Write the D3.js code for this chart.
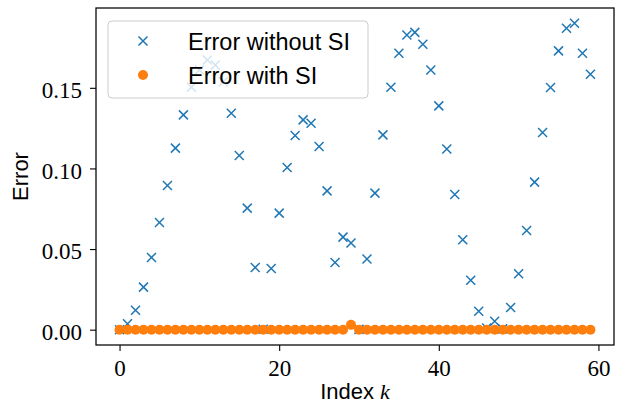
<!DOCTYPE html>
<html><head><meta charset="utf-8">
<script src="https://cdn.jsdelivr.net/npm/d3@7"></script>
<style>html,body{margin:0;padding:0;background:#fff;}svg{display:block;}</style>
</head><body>
<svg id="c" width="617" height="404"></svg>
<script>
const errWithout = [0.0, 0.0037, 0.012, 0.0264, 0.0448, 0.0665, 0.0894, 0.1126, 0.1332, 0.1504,
  0.161, 0.1673, 0.1642, 0.1538, 0.1342, 0.108, 0.0754, 0.0386, 0.0003, 0.038,
  0.0723, 0.1006, 0.1204, 0.1301, 0.128, 0.1136, 0.0861, 0.0417, 0.0574, 0.0537,
  0.0002, 0.0438, 0.0847, 0.1208, 0.1504, 0.1714, 0.1828, 0.1844, 0.177, 0.161,
  0.1388, 0.1121, 0.0838, 0.0558, 0.0306, 0.0114, 0.001, 0.0052, 0.0005, 0.0138,
  0.0347, 0.0615, 0.0915, 0.1223, 0.1502, 0.1729, 0.1869, 0.19, 0.1714, 0.1584];
const errWith = [0, 0, 0, 0, 0, 0, 0, 0, 0, 0,
  0, 0, 0, 0, 0, 0, 0, 0, 0, 0,
  0, 0, 0, 0, 0, 0, 0, 0, 0, 0.003,
  0, 0, 0, 0, 0, 0, 0, 0, 0, 0,
  0, 0, 0, 0, 0, 0, 0, 0, 0, 0,
  0, 0, 0, 0, 0, 0, 0, 0, 0, 0];
const xTicks = [0, 20, 40, 60];
const yTicks = [0.00, 0.05, 0.10, 0.15];
const seriesNames = ["Error without SI", "Error with SI"];
const colors = ["#1f77b4", "#ff7f0e"];

const L = 96, R = 614, T = 8, B = 345;
const svg = d3.select("#c");
const x = d3.scaleLinear().domain([-2.95, 61.95]).range([L, R]);
const y = d3.scaleLinear().domain([-0.0095, 0.1995]).range([B, T]);

const serif = "'Liberation Serif', 'DejaVu Serif', serif";
const sans = "'Liberation Sans', Arial, sans-serif";

// axes
const xAxis = d3.axisBottom(x).tickValues(xTicks).tickSize(6).tickPadding(8).tickFormat(d3.format("d"));
const yAxis = d3.axisLeft(y).tickValues(yTicks).tickSize(6).tickPadding(8).tickFormat(d3.format(".2f"));
const gx = svg.append("g").attr("transform", `translate(0,${B})`).call(xAxis);
const gy = svg.append("g").attr("transform", `translate(${L},0)`).call(yAxis);
[gx, gy].forEach(g => {
  g.select(".domain").remove();
  g.selectAll(".tick line").attr("stroke", "#000").attr("stroke-width", 1.1);
  g.selectAll(".tick text").attr("fill", "#000").style("font-family", serif).style("font-size", "23px");
});
gx.selectAll(".tick text").attr("dy", "0.76em");
gy.selectAll(".tick text").attr("dy", "0.42em");

// points: without SI (x markers)
const s = 4.5;
const gb = svg.append("g");
errWithout.forEach((v, i) => {
  gb.append("path")
    .attr("d", `M${x(i)-s},${y(v)-s}L${x(i)+s},${y(v)+s}M${x(i)-s},${y(v)+s}L${x(i)+s},${y(v)-s}`)
    .attr("stroke", colors[0]).attr("stroke-width", 1.5).attr("fill", "none");
});
// points: with SI (circles)
svg.append("g").selectAll("circle").data(errWith).join("circle")
  .attr("cx", (d, i) => x(i)).attr("cy", d => y(d)).attr("r", 5).attr("fill", colors[1]);

// frame
svg.append("rect").attr("x", L).attr("y", T).attr("width", R - L).attr("height", B - T)
  .attr("fill", "none").attr("stroke", "#000").attr("stroke-width", 1.25);

// axis labels
svg.append("text").attr("x", (L + R) / 2).attr("y", 399).attr("text-anchor", "middle")
  .style("font-family", sans).style("font-size", "22px").attr("fill", "#000")
  .html('Index <tspan style="font-family:' + serif.replace(/'/g, '&quot;') + ';font-style:italic">k</tspan>');
svg.append("text").attr("transform", `translate(28,${(T + B) / 2}) rotate(-90)`).attr("text-anchor", "middle")
  .style("font-family", sans).style("font-size", "22px").attr("fill", "#000").text("Error");

// legend
const lg = svg.append("g");
lg.append("rect").attr("x", 108).attr("y", 21).attr("width", 260).attr("height", 77).attr("rx", 4)
  .attr("fill", "#fff").attr("fill-opacity", 0.8).attr("stroke", "#cccccc").attr("stroke-width", 1);
const rowsY = [41, 75];
const mx = 143;
lg.append("path")
  .attr("d", `M${mx-s},${rowsY[0]-s}L${mx+s},${rowsY[0]+s}M${mx-s},${rowsY[0]+s}L${mx+s},${rowsY[0]-s}`)
  .attr("stroke", colors[0]).attr("stroke-width", 1.5);
lg.append("circle").attr("cx", mx).attr("cy", rowsY[1]).attr("r", 5).attr("fill", colors[1]);
seriesNames.forEach((n, i) => {
  lg.append("text").attr("x", 188).attr("y", rowsY[i] + 9).style("font-family", sans)
    .style("font-size", "23.5px").attr("fill", "#000").text(n);
});
</script>
</body></html>
